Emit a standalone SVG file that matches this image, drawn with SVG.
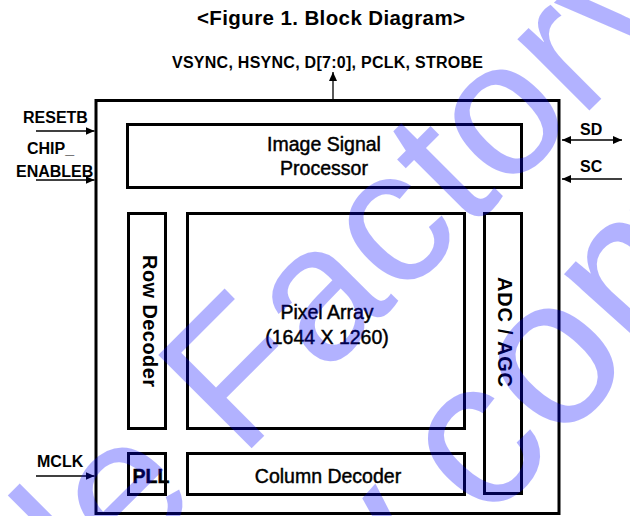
<svg xmlns="http://www.w3.org/2000/svg" width="630" height="516" viewBox="0 0 630 516">
<style>
.box{fill:none;stroke:#000;stroke-width:3}
.con{fill:none;stroke:#000;stroke-width:1.3}
.lbl{font-family:"Liberation Sans",Arial,sans-serif;font-weight:bold;font-size:16px;fill:#000}
.blk{font-family:"Liberation Sans",Arial,sans-serif;font-size:19.5px;fill:#000;stroke:#000;stroke-width:0.45;text-anchor:middle}
.vert{font-family:"Liberation Sans",Arial,sans-serif;font-weight:bold;font-size:20px;fill:#000;text-anchor:middle}
.title{font-family:"Liberation Sans",Arial,sans-serif;font-weight:bold;font-size:20.5px;fill:#000;text-anchor:middle}
.wm{font-family:"Liberation Sans",Arial,sans-serif;fill:#0000ff;fill-opacity:0.3}
</style>
<defs>
<marker id="ah" markerWidth="9" markerHeight="8" refX="9" refY="4" orient="auto-start-reverse" markerUnits="userSpaceOnUse">
<path d="M0,0 L9,4 L0,8 z" fill="#000"/>
</marker>
</defs>
<rect width="630" height="516" fill="#fff"/>
<text class="title" x="331" y="25" textLength="268">&lt;Figure 1. Block Diagram&gt;</text>
<g id="frame"><rect class="box" x="96" y="100.5" width="463" height="413"/></g>
<g id="isp"><rect class="box" x="127.5" y="124.5" width="394" height="63"/>
<text class="blk" x="324" y="151">Image Signal</text>
<text class="blk" x="324" y="175">Processor</text></g>
<g id="row-decoder"><rect class="box" x="128.5" y="213.5" width="37" height="215"/>
<text class="vert" transform="translate(143,321) rotate(90)" textLength="132">Row Decoder</text></g>
<g id="pixel-array"><rect class="box" x="187.5" y="213.5" width="277" height="215"/>
<text class="blk" x="327" y="319">Pixel Array</text>
<text class="blk" x="327" y="344">(1644 X 1260)</text></g>
<g id="adc-agc"><rect class="box" x="484.5" y="213.5" width="37" height="280"/>
<text class="vert" transform="translate(498,332) rotate(90)" textLength="110">ADC / AGC</text></g>
<g id="pll"><rect class="box" x="128.5" y="453.5" width="37" height="41"/>
<text class="blk" x="151" y="483" font-weight="bold" stroke-width="0">PLL</text></g>
<g id="column-decoder"><rect class="box" x="187.5" y="453.5" width="277" height="41"/>
<text class="blk" x="328" y="483">Column Decoder</text></g>
<g id="connectors">
<line class="con" x1="333" y1="99" x2="333" y2="72" marker-end="url(#ah)"/>
<line class="con" x1="36" y1="131" x2="94.5" y2="131" marker-end="url(#ah)"/>
<line class="con" x1="36" y1="180" x2="94.5" y2="180" marker-end="url(#ah)"/>
<line class="con" x1="36" y1="476" x2="94.5" y2="476" marker-end="url(#ah)"/>
<line class="con" x1="562" y1="140" x2="622" y2="140" marker-start="url(#ah)" marker-end="url(#ah)"/>
<line class="con" x1="622" y1="179" x2="562" y2="179" marker-end="url(#ah)"/>
</g>
<g id="labels">
<text class="lbl" x="327.5" y="68" text-anchor="middle" textLength="311">VSYNC, HSYNC, D[7:0], PCLK, STROBE</text>
<text class="lbl" x="23" y="123">RESETB</text>
<text class="lbl" x="27" y="154">CHIP_</text>
<text class="lbl" x="16" y="177">ENABLEB</text>
<text class="lbl" x="580" y="135">SD</text>
<text class="lbl" x="580" y="172">SC</text>
<text class="lbl" x="37" y="467">MCLK</text>
</g>
<g id="watermark">
<text class="wm" font-size="192" transform="translate(97,603) rotate(-45)">le Factory</text>
<text class="wm" font-size="212" transform="translate(388,637) rotate(-48)">y.com</text>
</g>
</svg>
